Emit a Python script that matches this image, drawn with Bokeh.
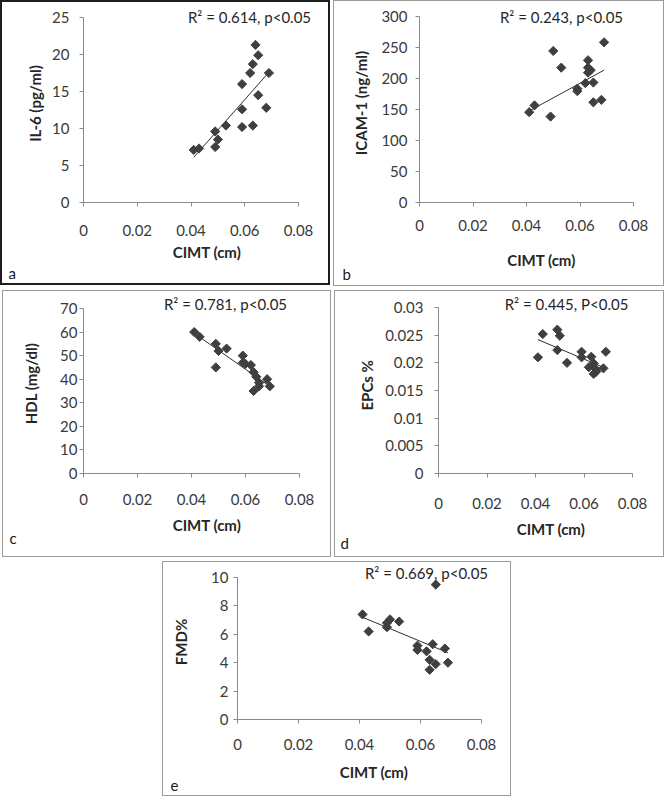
from bokeh.plotting import figure
from bokeh.layouts import column, row
from bokeh.models import FixedTicker, Label, Title, Spacer
from bokeh.embed import file_html
from bokeh.resources import INLINE

# ---------------- data ----------------
x_ticks = [0, 0.02, 0.04, 0.06, 0.08]
x_tick_labels = ["0", "0.02", "0.04", "0.06", "0.08"]
x_label = "CIMT (cm)"

cimt_a = [0.041, 0.043, 0.049, 0.049, 0.050, 0.053, 0.059, 0.059, 0.059, 0.062, 0.063, 0.064, 0.065, 0.065, 0.063, 0.068, 0.069]
il6 = [7.1, 7.3, 9.6, 7.5, 8.5, 10.4, 16.0, 12.6, 10.2, 17.5, 18.7, 21.3, 19.9, 14.5, 10.4, 12.8, 17.5]
il6_trend_x = [0.041, 0.069]
il6_trend_y = [6.1, 17.6]
il6_ticks = [0, 5, 10, 15, 20, 25]
il6_tick_labels = ["0", "5", "10", "15", "20", "25"]

cimt_b = [0.041, 0.043, 0.049, 0.050, 0.053, 0.059, 0.059, 0.063, 0.063, 0.063, 0.064, 0.062, 0.065, 0.065, 0.068, 0.069]
icam = [146, 157, 139, 245, 218, 184, 180, 230, 218, 210, 214, 193, 194, 162, 166, 259]
icam_trend_x = [0.041, 0.069]
icam_trend_y = [148, 214]
icam_ticks = [0, 50, 100, 150, 200, 250, 300]
icam_tick_labels = ["0", "50", "100", "150", "200", "250", "300"]

cimt_c = [0.041, 0.043, 0.049, 0.049, 0.050, 0.053, 0.059, 0.059, 0.060, 0.062, 0.063, 0.064, 0.063, 0.065, 0.065, 0.068, 0.069]
hdl = [60, 58, 55, 45, 52, 53, 50, 47, 46.5, 46, 43, 41, 35, 37, 38.5, 40, 37]
hdl_trend_x = [0.041, 0.069]
hdl_trend_y = [59.5, 37.0]
hdl_ticks = [0, 10, 20, 30, 40, 50, 60, 70]
hdl_tick_labels = ["0", "10", "20", "30", "40", "50", "60", "70"]

cimt_d = [0.041, 0.043, 0.049, 0.049, 0.050, 0.053, 0.059, 0.059, 0.063, 0.062, 0.064, 0.064, 0.065, 0.065, 0.068, 0.069]
epc = [0.0210, 0.0252, 0.0260, 0.0223, 0.0249, 0.0200, 0.0220, 0.0210, 0.0211, 0.0192, 0.0199, 0.0180, 0.0188, 0.0184, 0.0190, 0.0220]
epc_trend_x = [0.041, 0.069]
epc_trend_y = [0.0242, 0.0190]
epc_ticks = [0, 0.005, 0.01, 0.015, 0.02, 0.025, 0.03]
epc_tick_labels = ["0", "0.005", "0.01", "0.015", "0.02", "0.025", "0.03"]

cimt_e = [0.041, 0.043, 0.049, 0.049, 0.050, 0.053, 0.059, 0.059, 0.062, 0.063, 0.063, 0.064, 0.065, 0.065, 0.068, 0.069]
fmd = [7.4, 6.2, 6.5, 6.8, 7.05, 6.9, 5.2, 4.9, 4.8, 4.2, 3.5, 5.3, 3.9, 9.5, 5.0, 4.0]
fmd_trend_x = [0.041, 0.069]
fmd_trend_y = [7.2, 4.7]
fmd_ticks = [0, 2, 4, 6, 8, 10]
fmd_tick_labels = ["0", "2", "4", "6", "8", "10"]

FONT = "Lato"
AXIS_COLOR = "#8a8a8a"
TEXT_COLOR = "#3a3a3a"
MARK_COLOR = "#3f3f3f"


def panel(xs, ys, tx, ty, yticks, ylabels, ylabel, r2, letter,
          w, h, L, R, T, B, r2px, r2py, border,
          ystd, ylstd, xstd, xlstd, letter_std, letter_off):
    # pixel geometry -> extended ranges so that the R^2 text is not clipped
    x_end = x_ticks[-1] * (w - 2 - L) / (R - L)
    ymin, ymax = yticks[0], yticks[-1]
    y_end = ymax + (T - 2) / (B - T) * (ymax - ymin)
    p = figure(width=w, height=h, x_range=(0, x_end), y_range=(ymin, y_end),
               output_backend="svg", toolbar_location=None,
               min_border_left=L, min_border_right=2, min_border_top=2, min_border_bottom=h - B)
    p.styles = {"border": border}
    p.outline_line_color = None
    p.xgrid.visible = False
    p.ygrid.visible = False
    p.background_fill_color = "white"
    p.border_fill_color = "white"

    for ax, ticks, labels in ((p.xaxis[0], x_ticks, x_tick_labels), (p.yaxis[0], yticks, ylabels)):
        ax.ticker = FixedTicker(ticks=ticks)
        ax.bounds = (ticks[0], ticks[-1])
        ax.major_label_overrides = dict(zip(ticks, labels))
        ax.minor_tick_line_color = None
        ax.major_tick_in = 0
        ax.major_tick_out = 4
        ax.axis_line_color = AXIS_COLOR
        ax.major_tick_line_color = AXIS_COLOR
        ax.major_label_text_font = FONT
        ax.major_label_text_font_size = "15px"
        ax.major_label_text_color = TEXT_COLOR
        ax.axis_label_text_font = FONT
        ax.axis_label_text_font_size = "15px"
        ax.axis_label_text_font_style = "bold"
        ax.axis_label_text_color = "#262626"

    p.xaxis.axis_label = x_label
    p.yaxis.axis_label = ylabel
    p.yaxis.major_label_standoff = ystd
    p.yaxis.axis_label_standoff = ylstd
    p.xaxis.major_label_standoff = xstd
    p.xaxis.axis_label_standoff = xlstd

    p.line(tx, ty, line_color="#303030", line_width=1)
    p.scatter(xs, ys, marker="square", angle=45, angle_units="deg", size=6.5,
              fill_color=MARK_COLOR, line_color=MARK_COLOR)

    r2x = x_ticks[-1] * (r2px - L) / (R - L)
    r2y = ymin + (ymax - ymin) * (B - r2py) / (B - T)
    p.add_layout(Label(x=r2x, y=r2y, text=r2, text_align="center", text_baseline="middle",
                       text_font=FONT, text_font_size="15px", text_color="#262626"))
    p.add_layout(Title(text=letter, align="left", offset=letter_off, standoff=letter_std,
                       text_font=FONT, text_font_size="15px", text_font_style="normal",
                       text_color="#1a1a1a"), "below")
    return p


pa = panel(cimt_a, il6, il6_trend_x, il6_trend_y, il6_ticks, il6_tick_labels, "IL-6 (pg/ml)",
           "R\u00b2 = 0.614, p<0.05", "a",
           330, 285, 81, 296, 15, 200, 247, 14, "2px solid #1e1e1e",
           10, 5, 18, 4, -3, -75)
pb = panel(cimt_b, icam, icam_trend_x, icam_trend_y, icam_ticks, icam_tick_labels, "ICAM-1 (ng/ml)",
           "R\u00b2 = 0.243, p<0.05", "b",
           331, 286, 85, 299, 16, 209, 227, 16, "1px solid #9a9a9a",
           8, 8, 13, 17, -23, -77)
pc = panel(cimt_c, hdl, hdl_trend_x, hdl_trend_y, hdl_ticks, hdl_tick_labels, "HDL (mg/dl)",
           "R\u00b2 = 0.781, p<0.05", "c",
           329, 267, 80, 296, 17, 182, 222, 12, "1px solid #9a9a9a",
           2, 17, 16, 8, -19, -74)
pd_ = panel(cimt_d, epc, epc_trend_x, epc_trend_y, epc_ticks, epc_tick_labels, "EPCs  %",
            "R\u00b2 = 0.445, P<0.05", "d",
            330, 267, 103, 297, 16, 182, 231, 12, "1px solid #9a9a9a",
            11, 6, 20, 8, -18, -98)
pe = panel(cimt_e, fmd, fmd_trend_x, fmd_trend_y, fmd_ticks, fmd_tick_labels, "FMD%",
           "R\u00b2 = 0.669, p<0.05", "e",
           349, 235, 74, 318, 15, 157, 263, 10, "1px solid #9a9a9a",
           5, 18, 15, 10, -14, -67)

row1 = row(pa, Spacer(width=3, height=1), pb, spacing=0)
row2 = row(Spacer(width=2, height=1), pc, Spacer(width=3, height=1), pd_, spacing=0)
row3 = row(Spacer(width=162, height=1), pe, spacing=0)
root = column(row1, Spacer(width=1, height=4), row2, Spacer(width=1, height=4), row3, spacing=0)

open("out.html", "w").write(file_html(root, INLINE))
